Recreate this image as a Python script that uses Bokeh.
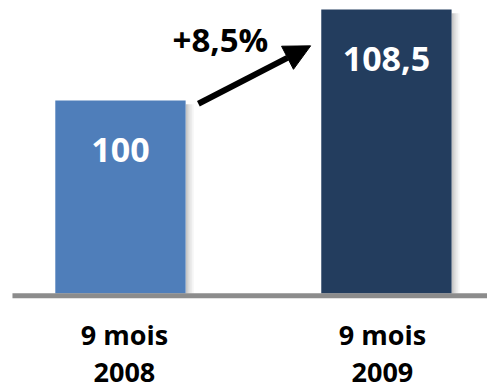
from bokeh.plotting import figure
from bokeh.models import Range1d, Arrow, NormalHead, ColumnDataSource
from bokeh.core.properties import value
from bokeh.embed import file_html
from bokeh.resources import INLINE

categories = ["9 mois\n2008", "9 mois\n2009"]
values = [100, 108.5]
value_labels = ["100", "108,5"]
growth_label = "+8,5%"
colors = ["#4F7EBA", "#233D5E"]

Y_FLOOR = 82.0
xs = list(range(len(categories)))
BAR_W = 0.49
label_dx = [0.015, -0.015]

p = figure(width=487, height=390, output_backend="svg", toolbar_location=None,
           x_range=Range1d(-0.451, 1.380), y_range=Range1d(72.95, 109.33),
           min_border=0, outline_line_color=None)
p.axis.visible = False
p.grid.visible = False
p.background_fill_color = "white"

# shadows
for i, a in enumerate([0.30, 0.20, 0.12, 0.05]):
    p.quad(left=[x + BAR_W / 2 + i * 2 / 266 for x in xs],
           right=[x + BAR_W / 2 + (i + 1) * 2 / 266 for x in xs],
           bottom=[Y_FLOOR] * len(xs), top=[v - 0.35 for v in values],
           fill_color="#404040", fill_alpha=a, line_color=None)

src = ColumnDataSource(dict(x=xs, top=values, color=colors, lab=value_labels,
                            ly=[v - 4.6 for v in values]))
p.vbar(x="x", top="top", bottom=Y_FLOOR, width=BAR_W, fill_color="color",
       line_color=None, source=src)

# baseline
p.segment(x0=[-0.406], x1=[1.38], y0=[Y_FLOOR - 0.22], y1=[Y_FLOOR - 0.22],
          line_color="#8C8C8C", line_width=5)

p.text(x="x", y="ly", text="lab", source=src, text_color="white",
       text_font=value("Open Sans"), text_font_style="bold", text_font_size="34px",
       text_align="center", text_baseline="middle")

p.text(x=[x + d for x, d in zip(xs, label_dx)], y=[Y_FLOOR - 5.55] * len(xs),
       text=categories, text_color="black", text_font=value("Open Sans"),
       text_font_style="bold", text_font_size="27px", text_align="center",
       text_baseline="middle", text_line_height=1.0)

p.text(x=[0.376], y=[105.7], text=[growth_label], text_color="black",
       text_font=value("Open Sans"), text_font_style="bold", text_font_size="33px",
       text_align="center", text_baseline="middle")

p.add_layout(Arrow(x_start=0.293, y_start=99.7, x_end=0.715, y_end=105.1,
                   line_width=6, line_color="black",
                   end=NormalHead(size=26, fill_color="black", line_color="black")))

open("out.html", "w").write(file_html(p, INLINE))
